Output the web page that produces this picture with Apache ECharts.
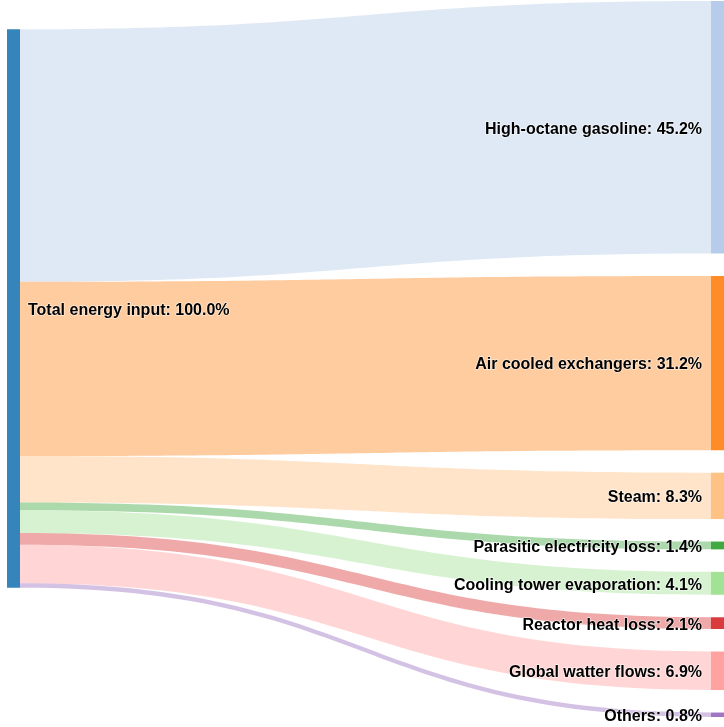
<!DOCTYPE html>
<html>
<head>
<meta charset="utf-8">
<style>
  html, body { margin: 0; padding: 0; background: #fff; }
  #chart { width: 724px; height: 727px; }
</style>
<script src="https://cdn.jsdelivr.net/npm/echarts@6/dist/echarts.min.js"></script>
</head>
<body>
<div id="chart"></div>
<script>
// Energy balance: one input split into outputs (percent of total)
const sourceName = 'Total energy input';
const sourceColor = '#1f77b4';

const targetNames = [
  'High-octane gasoline',
  'Air cooled exchangers',
  'Steam',
  'Parasitic electricity loss',
  'Cooling tower evaporation',
  'Reactor heat loss',
  'Global watter flows',
  'Others'
];
const targetValues = [45.2, 31.2, 8.3, 1.4, 4.1, 2.1, 6.9, 0.8];
const targetColors = [
  '#aec7e8', '#ff7f0e', '#ffbb78', '#2ca02c',
  '#98df8a', '#d62728', '#ff9896', '#9467bd'
];

const chartWidth = 724, chartHeight = 727;
const pad = { left: 7, right: 0, top: 1, bottom: 10 };
const nodeGap = 22.5;

// Targets stay in their listed order (no iterative relaxation), so the
// source node is centred on the value-weighted middle of its targets.
function sourceLocalY() {
  const h = chartHeight - pad.top - pad.bottom;
  const total = targetValues.reduce((a, b) => a + b, 0);
  const ky = (h - (targetValues.length - 1) * nodeGap) / total;
  let y = 0, weighted = 0;
  targetValues.forEach(v => {
    const dy = v * ky;
    weighted += (y + dy / 2) * v;
    y += dy + nodeGap;
  });
  const centre = weighted / total;
  return (centre - total * ky / 2) / h;
}

const labelFont = {
  color: '#000',
  fontFamily: 'Liberation Sans, Arial, Helvetica, sans-serif',
  fontWeight: 'bold',
  fontSize: 16,
  textBorderColor: 'rgba(255,255,255,0.6)',
  textBorderWidth: 1.5
};

const nodes = [{
  name: sourceName,
  localY: sourceLocalY(),
  itemStyle: { color: sourceColor },
  label: { position: 'right', distance: 8 }
}].concat(targetNames.map((n, i) => ({
  name: n,
  itemStyle: { color: targetColors[i] }
})));

const links = targetNames.map((n, i) => ({
  source: sourceName,
  target: n,
  value: targetValues[i]
}));

const chart = echarts.init(document.getElementById('chart'), null, { renderer: 'canvas' });
chart.setOption({
  animation: false,
  series: [{
    type: 'sankey',
    left: pad.left,
    right: pad.right,
    top: pad.top,
    bottom: pad.bottom,
    nodeWidth: 13,
    nodeGap: nodeGap,
    layoutIterations: 0,
    draggable: false,
    emphasis: { disabled: true },
    data: nodes,
    links: links,
    itemStyle: { opacity: 0.9, borderWidth: 0 },
    lineStyle: { color: 'target', opacity: 0.4, curveness: 0.5 },
    label: Object.assign({
      show: true,
      position: 'left',
      distance: 9,
      offset: [0, 2],
      formatter: p => p.name + ': ' + Number(p.value).toFixed(1) + '%'
    }, labelFont)
  }]
});
</script>
</body>
</html>
